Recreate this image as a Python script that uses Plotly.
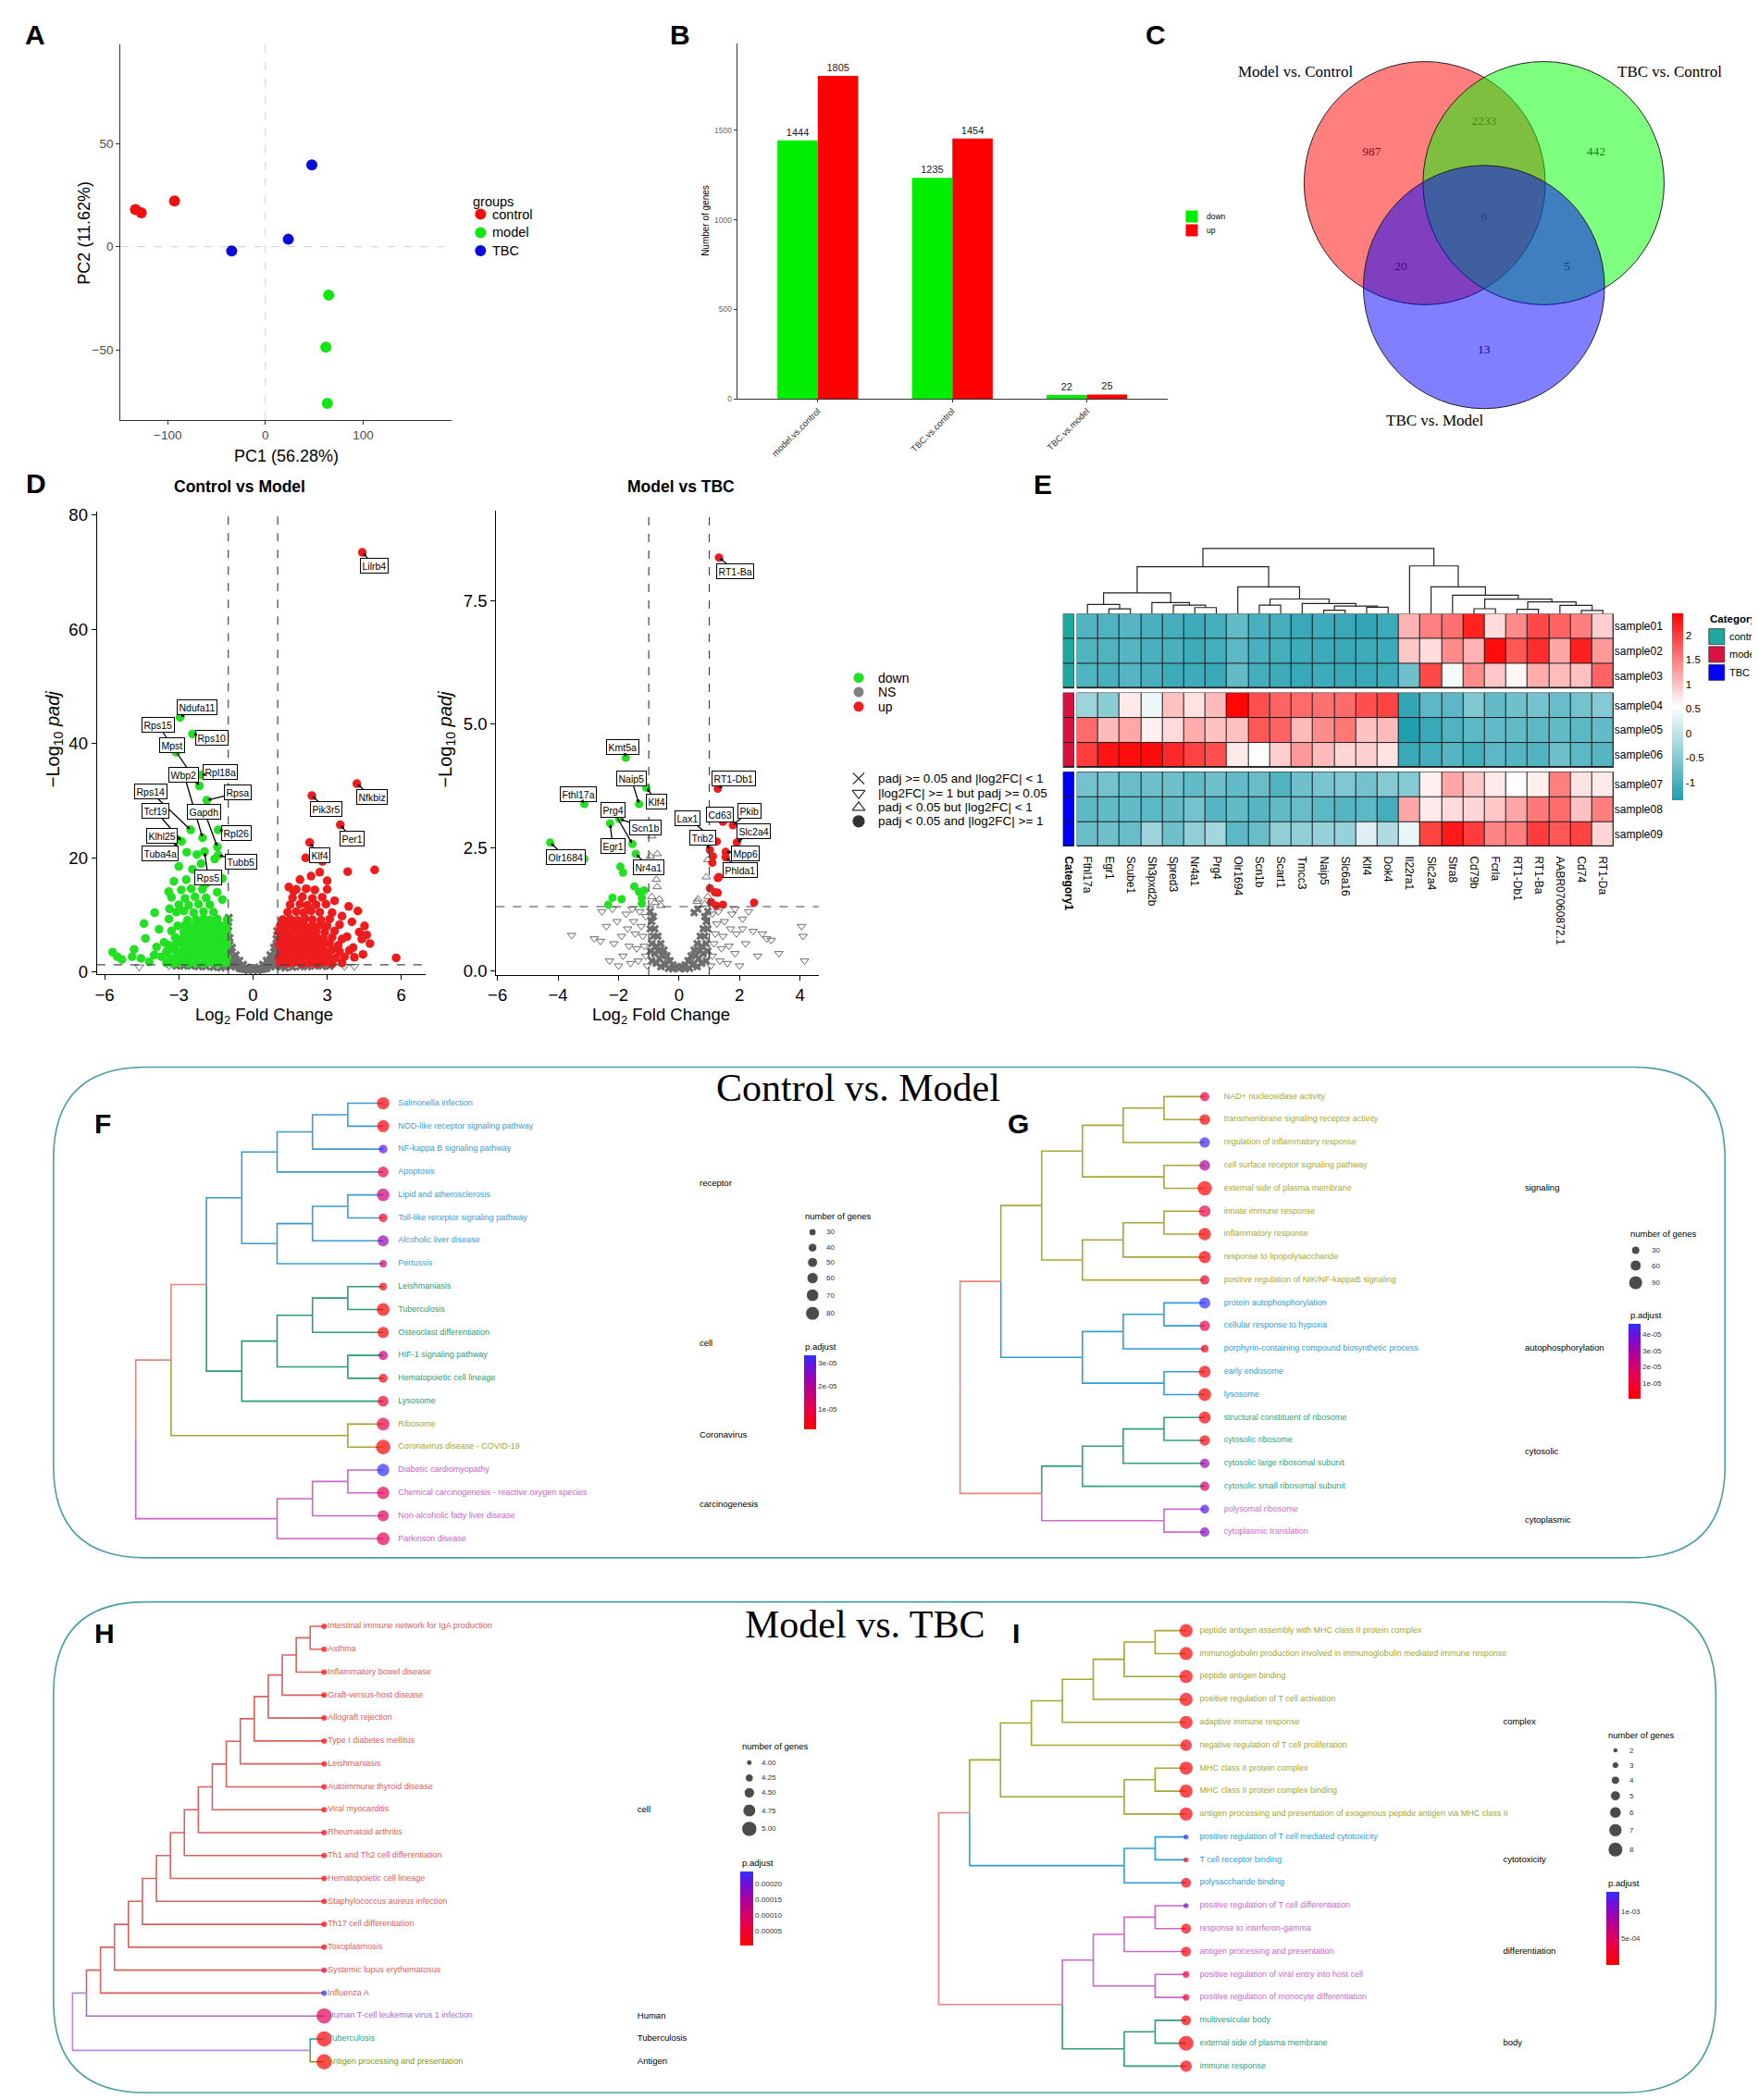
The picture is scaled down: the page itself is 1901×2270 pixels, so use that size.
import plotly.graph_objects as go

W, H = 1901, 2270
SANS = "Liberation Sans, Arial, Helvetica, sans-serif"
SERIF = "Liberation Serif, Times New Roman, serif"

# ===================== DATA =====================
# A: PCA
PCA_GROUPS = ["control", "model", "TBC"]
PCA_PC1 = [[-133.0, -127.0, -93.0], [64.7, 61.8, 63.3], [47.5, 23.4, -34.5]]
PCA_PC2 = [[18.0, 16.4, 22.2], [-23.5, -48.7, -76.0], [39.7, 3.6, -2.1]]

# B: number of DEGs
DEG_COMPARISONS = ["model.vs.control", "TBC.vs.control", "TBC.vs.model"]
DEG_DOWN = [1444, 1235, 22]
DEG_UP = [1805, 1454, 25]

# C: Venn
VENN_SETS = ["Model vs. Control", "TBC vs. Control", "TBC vs. Model"]
VENN_COUNTS = [987, 2233, 442, 9, 20, 5, 13]

# D-left: Control vs Model volcano (log2FC, -log10 padj)
CM_DOWN = [
    (-1.10, 1.6), (-1.40, 1.5), (-1.70, 1.7), (-2.00, 1.5), (-2.30, 1.6), (-2.60, 1.5), (-2.90, 1.7), (-3.20, 1.5), (-3.50, 1.6),
    (-1.05, 2.6), (-1.30, 2.7), (-1.55, 2.5), (-1.80, 2.6), (-2.05, 2.8), (-2.30, 2.5), (-2.55, 2.7), (-2.80, 2.6), (-3.05, 2.8), (-3.35, 2.5), (-3.70, 2.7),
    (-1.15, 3.7), (-1.40, 3.8), (-1.65, 3.6), (-1.90, 3.9), (-2.15, 3.7), (-2.40, 3.6), (-2.65, 3.8), (-2.90, 3.7), (-3.20, 3.9), (-3.50, 3.6),
    (-1.05, 4.8), (-1.30, 4.9), (-1.55, 4.7), (-1.80, 4.8), (-2.05, 5.0), (-2.30, 4.7), (-2.55, 4.9), (-2.80, 4.8), (-3.10, 5.0), (-3.40, 4.7),
    (-1.10, 5.9), (-1.35, 6.0), (-1.60, 5.8), (-1.85, 6.1), (-2.10, 5.9), (-2.35, 5.8), (-2.60, 6.0), (-2.85, 5.9), (-3.15, 6.1),
    (-1.05, 7.0), (-1.30, 7.1), (-1.55, 6.9), (-1.80, 7.2), (-2.05, 7.0), (-2.30, 6.9), (-2.55, 7.1), (-2.80, 7.0), (-3.30, 7.2),
    (-1.10, 8.1), (-1.35, 8.2), (-1.60, 8.0), (-1.90, 8.3), (-2.15, 8.1), (-2.45, 8.0), (-2.75, 8.2), (-3.05, 8.1),
    (-1.05, 9.2), (-1.45, 9.3), (-1.75, 9.1), (-2.00, 9.4), (-2.30, 9.2), (-2.65, 9.1), (-3.40, 9.3),
    (-1.60, 10.5), (-2.00, 10.6), (-2.40, 10.4), (-2.80, 10.7), (-3.10, 10.5),
    (-1.75, 11.8), (-2.20, 11.9), (-2.60, 11.7), (-3.00, 11.8),
    (-1.90, 13.0), (-2.35, 13.2), (-2.75, 12.9), (-3.30, 13.1),
    (-2.05, 14.5), (-2.50, 14.6), (-2.90, 14.4), (-2.20, 16.0), (-2.70, 16.2), (-3.20, 15.9),
    (-1.24, 12.7), (-1.24, 16.4), (-3.98, 10.4), (-4.41, 8.5), (-4.35, 5.9), (-3.38, 11.1), (-3.41, 14.1), (-4.81, 4.0),
    (-4.89, 2.7), (-4.53, 2.4), (-5.68, 3.5), (-5.49, 2.7), (-5.30, 2.2), (-4.00, 3.0), (-4.20, 1.8), (-3.80, 7.5),
    (-3.60, 5.2), (-3.90, 4.4), (-3.05, 23.2), (-2.68, 21.0), (-2.27, 20.6), (-3.00, 18.5), (-2.45, 18.0), (-1.70, 17.2),
    (-1.55, 19.8), (-2.10, 19.0), (-1.90, 15.5), (-1.45, 14.0),
    (-2.95, 44.6), (-2.45, 41.7), (-3.11, 38.5), (-2.17, 32.6), (-2.11, 34.5), (-1.87, 30.1), (-2.04, 23.5), (-2.52, 24.9),
    (-1.44, 21.9), (-2.89, 22.9), (-1.41, 24.9), (-1.96, 21.1), (-1.41, 20.5),
]
CM_UP = [
    (1.10, 1.6), (1.40, 1.5), (1.70, 1.7), (2.00, 1.5), (2.30, 1.6), (2.60, 1.5), (2.90, 1.7), (3.20, 1.5), (3.60, 1.6),
    (1.05, 2.6), (1.30, 2.7), (1.55, 2.5), (1.80, 2.6), (2.05, 2.8), (2.30, 2.5), (2.55, 2.7), (2.80, 2.6), (3.05, 2.8), (3.35, 2.5), (3.70, 2.7), (4.10, 2.6),
    (1.15, 3.7), (1.40, 3.8), (1.65, 3.6), (1.90, 3.9), (2.15, 3.7), (2.40, 3.6), (2.65, 3.8), (2.90, 3.7), (3.20, 3.9), (3.50, 3.6), (3.90, 3.8),
    (1.05, 4.8), (1.30, 4.9), (1.55, 4.7), (1.80, 4.8), (2.05, 5.0), (2.30, 4.7), (2.55, 4.9), (2.80, 4.8), (3.10, 5.0), (3.45, 4.7),
    (1.10, 5.9), (1.35, 6.0), (1.60, 5.8), (1.85, 6.1), (2.10, 5.9), (2.35, 5.8), (2.60, 6.0), (2.85, 5.9), (3.20, 6.1), (3.60, 5.8),
    (1.05, 7.0), (1.30, 7.1), (1.55, 6.9), (1.80, 7.2), (2.05, 7.0), (2.30, 6.9), (2.55, 7.1), (2.90, 7.0), (3.30, 7.2),
    (1.10, 8.1), (1.35, 8.2), (1.60, 8.0), (1.85, 8.3), (2.10, 8.1), (2.40, 8.0), (2.70, 8.2), (3.00, 8.1), (3.50, 8.3),
    (1.20, 9.2), (1.50, 9.3), (1.80, 9.1), (2.10, 9.4), (2.40, 9.2), (2.75, 9.1), (3.10, 9.3),
    (1.40, 10.5), (1.75, 10.6), (2.05, 10.4), (2.35, 10.7), (2.70, 10.5), (3.20, 10.4),
    (1.50, 11.8), (1.90, 11.9), (2.20, 11.7), (2.55, 11.8), (2.95, 11.9),
    (1.60, 13.0), (2.00, 13.2), (2.40, 12.9), (2.80, 13.1), (1.75, 14.5), (2.15, 14.6), (2.50, 14.4), (3.00, 14.5),
    (4.92, 17.9), (3.83, 17.6), (5.79, 2.5), (4.73, 5.0), (4.51, 8.1), (4.24, 10.7), (3.87, 11.5), (4.00, 8.8),
    (4.30, 7.0), (3.80, 6.2), (4.05, 4.3), (4.45, 3.1), (2.54, 19.8), (2.13, 20.0), (2.81, 19.4), (3.00, 16.0),
    (1.45, 14.9), (1.64, 14.2), (2.35, 16.8), (2.70, 17.5), (1.90, 16.2), (3.30, 12.5), (3.60, 9.8), (4.40, 5.8), (4.60, 6.5),
    (4.42, 73.5), (4.20, 33.0), (2.38, 30.9), (3.53, 25.8), (2.29, 22.7),
]
CM_NS = [
    (0.0, 0.4), (0.12, 0.5), (-0.12, 0.5), (0.25, 0.8), (-0.25, 0.8), (0.4, 1.3), (-0.4, 1.3), (0.55, 2.0), (-0.55, 2.0),
    (0.7, 3.0), (-0.7, 3.0), (0.85, 4.3), (-0.85, 4.3), (0.95, 5.8), (-0.95, 6.0), (-1.0, 8.0), (0.98, 7.2), (-0.98, 9.5),
    (0.35, 0.5), (-0.35, 0.5), (0.55, 0.7), (-0.55, 0.7), (0.7, 1.0), (-0.7, 1.0), (0.85, 1.3), (-0.85, 1.3), (0.9, 2.3),
    (-0.9, 2.3), (0.75, 1.8), (-0.75, 1.8), (0.95, 3.3), (-0.95, 3.3), (0.6, 1.2), (-0.6, 1.2), (0.9, 1.0), (-0.9, 1.0),
    (0.2, 0.3), (-0.2, 0.3), (0.45, 0.6), (-0.45, 0.6), (0.8, 2.4), (-0.8, 2.5), (0.95, 4.6), (-0.95, 4.8),
    (-1.3, 0.8), (-1.6, 0.9), (-1.9, 1.0), (-2.2, 1.0), (-2.5, 1.1), (-2.8, 1.1), (-3.1, 1.1), (1.3, 0.8), (1.6, 0.9),
    (1.9, 1.0), (2.2, 1.0), (2.5, 1.1), (2.8, 1.1), (3.1, 1.1), (-1.15, 1.0), (1.15, 1.0),
]
CM_NS_TRI = [(-4.6, 0.9), (-3.4, 1.1), (2.9, 1.0), (3.2, 1.1), (3.7, 1.0), (4.1, 1.0)]
CM_LABELS = [  # gene, point x, point y, label x, label y
    ("Lilrb4", 4.42, 73.5, 4.92, 71.1), ("Ndufa11", -2.95, 44.6, -2.27, 46.3), ("Rps15", -2.17, 32.6, -3.85, 43.3),
    ("Rps10", -2.45, 41.7, -1.65, 41.0), ("Mpst", -3.11, 38.5, -3.28, 39.7), ("Rpl18a", -2.11, 34.5, -1.34, 35.0),
    ("Wbp2", -2.04, 23.5, -2.79, 34.6), ("Rpsa", -1.87, 30.1, -0.61, 31.4), ("Rps14", -2.52, 24.9, -4.15, 31.6),
    ("Gapdh", -1.44, 21.9, -1.97, 28.1), ("Tcf19", -2.89, 22.9, -3.93, 28.2), ("Rpl26", -1.41, 24.9, -0.66, 24.3),
    ("Klhl25", -3.00, 22.0, -3.67, 23.8), ("Tuba4a", -3.10, 21.0, -3.75, 20.8), ("Tubb5", -1.41, 20.5, -0.47, 19.4),
    ("Rps5", -1.96, 21.1, -1.81, 16.5), ("Nfkbiz", 4.20, 33.0, 4.80, 30.7), ("Pik3r5", 2.38, 30.9, 2.96, 28.6),
    ("Per1", 3.53, 25.8, 3.99, 23.4), ("Klf4", 2.29, 22.7, 2.69, 20.4),
]

# D-right: Model vs TBC volcano
MT_DOWN = [(-1.76, 4.32), (-1.32, 3.38), (-1.08, 3.71), (-3.13, 3.38), (-1.54, 2.57), (-1.98, 3.08), (-2.28, 2.99),
           (-4.26, 2.60), (-1.43, 2.37), (-3.13, 2.27), (-1.94, 2.11), (-1.85, 1.99), (-1.48, 1.71), (-1.32, 1.60),
           (-1.15, 1.63), (-1.23, 1.48), (-1.23, 1.36), (-2.20, 1.48), (-2.34, 1.34), (-1.90, 1.45)]
MT_UP = [(1.32, 8.38), (1.28, 3.69), (1.45, 3.02), (1.78, 2.95), (1.25, 2.62), (1.91, 2.60), (1.02, 2.45), (1.54, 2.41),
         (1.54, 2.30), (1.12, 2.32), (1.10, 2.19), (1.28, 1.88), (1.32, 1.90), (1.02, 1.67), (1.19, 1.59), (1.28, 1.58),
         (1.06, 1.39), (1.23, 1.32), (1.45, 1.34), (2.48, 1.38)]
MT_NS = [(0.0, 0.05), (0.1, 0.08), (-0.1, 0.08), (0.2, 0.12), (-0.2, 0.12), (0.3, 0.2), (-0.3, 0.2), (0.4, 0.3), (-0.4, 0.3),
         (0.5, 0.42), (-0.5, 0.42), (0.6, 0.55), (-0.6, 0.55), (0.7, 0.7), (-0.7, 0.7), (0.8, 0.85), (-0.8, 0.85),
         (0.9, 1.0), (-0.9, 1.0), (0.95, 1.2), (-0.95, 1.2), (0.35, 0.05), (-0.35, 0.05), (0.5, 0.15), (-0.5, 0.15),
         (0.65, 0.25), (-0.65, 0.25), (0.8, 0.35), (-0.8, 0.35), (0.9, 0.55), (-0.9, 0.55), (0.75, 0.5), (-0.75, 0.5),
         (0.85, 0.7), (-0.85, 0.7), (0.95, 0.85), (-0.95, 0.85), (0.6, 0.08), (-0.6, 0.08), (0.75, 0.15), (-0.75, 0.15),
         (0.9, 0.2), (-0.9, 0.2), (0.95, 0.4), (-0.95, 0.4), (0.2, 0.04), (-0.2, 0.04), (0.45, 0.12), (-0.45, 0.12),
         (0.68, 0.4), (-0.68, 0.4), (0.55, 0.3), (-0.55, 0.3), (0.85, 1.1), (-0.85, 1.1), (0.5, 1.18), (0.62, 1.25)]
MT_TRI_DOWN = [(-1.05, 0.1), (-1.1, 0.3), (-1.15, 0.5), (-1.2, 0.7), (-1.25, 0.9), (-1.1, 1.1), (-1.3, 1.2), (-1.35, 0.2),
               (-1.4, 0.45), (-1.45, 0.75), (-1.5, 1.0), (-1.6, 0.15), (-1.65, 0.5), (-1.7, 0.85), (-1.75, 1.15),
               (-1.85, 0.3), (-1.9, 0.7), (-2.0, 0.1), (-2.05, 1.0), (-2.15, 0.55), (-2.3, 0.2), (-2.4, 0.9), (-2.55, 1.2),
               (-2.6, 0.6), (-2.8, 0.65), (-3.55, 0.72), (-2.2, 1.25), (-1.55, 1.25),
               (1.05, 0.1), (1.1, 0.3), (1.15, 0.55), (1.2, 0.75), (1.25, 0.95), (1.1, 1.15), (1.3, 1.2), (1.35, 0.2),
               (1.4, 0.45), (1.45, 0.7), (1.5, 1.0), (1.6, 0.15), (1.65, 0.5), (1.7, 0.85), (1.75, 1.15), (1.85, 0.35),
               (1.9, 0.75), (2.0, 0.1), (2.1, 1.05), (2.2, 0.55), (2.45, 0.8), (2.6, 0.3), (2.75, 0.75), (2.9, 0.65),
               (3.05, 0.62), (3.3, 0.35), (4.05, 0.9), (4.1, 0.7), (4.15, 0.2), (2.3, 1.2), (2.1, 0.85), (1.85, 1.25)]
MT_TRI_UP = [(-0.9, 2.73), (-0.72, 2.37), (-0.95, 2.32), (-0.75, 1.85), (-0.72, 1.7), (-0.9, 1.5), (-0.65, 1.45),
             (-0.8, 1.38), (-0.6, 1.32), (0.62, 1.45), (0.6, 1.4), (0.9, 1.9), (0.95, 2.25), (0.85, 1.35), (0.95, 1.5)]
MT_LABELS = [
    ("RT1-Ba", 1.32, 8.38, 1.87, 8.11), ("Kmt5a", -1.76, 4.32, -1.85, 4.53), ("Naip5", -1.32, 3.38, -1.58, 3.90),
    ("Klf4", -1.08, 3.71, -0.73, 3.43), ("Fthl17a", -3.13, 3.38, -3.33, 3.58), ("Prg4", -1.54, 2.57, -2.19, 3.26),
    ("Scn1b", -1.98, 3.08, -1.12, 2.90), ("Egr1", -2.28, 2.99, -2.19, 2.52), ("Olr1684", -4.26, 2.60, -3.74, 2.30),
    ("Nr4a1", -1.43, 2.37, -0.99, 2.10), ("RT1-Db1", 1.28, 3.69, 1.81, 3.90), ("Cd63", 1.45, 3.02, 1.35, 3.16),
    ("Pkib", 1.78, 2.95, 2.34, 3.24), ("Lax1", 1.25, 2.62, 0.28, 3.10), ("Slc2a4", 1.91, 2.60, 2.47, 2.82),
    ("Trib2", 1.02, 2.45, 0.78, 2.69), ("Mpp6", 1.54, 2.41, 2.18, 2.38), ("Phlda1", 1.54, 2.30, 2.02, 2.04),
]

# E: heatmap
HM_GENES = ["Fthl17a", "Egr1", "Scube1", "Sh3pxd2b", "Spred3", "Nr4a1", "Prg4", "Olr1694", "Scn1b", "Scart1", "Tmcc3",
            "Naip5", "Slc6a16", "Klf4", "Dok4", "Il22ra1", "Slc2a4", "Stra8", "Cd79b", "Fcrla", "RT1-Db1", "RT1-Ba",
            "AABR07060872.1", "Cd74", "RT1-Da"]
HM_SAMPLES = ["sample01", "sample02", "sample03", "sample04", "sample05", "sample06", "sample07", "sample08", "sample09"]
HM_CATEGORY = ["control", "control", "control", "model", "model", "model", "TBC", "TBC", "TBC"]
HM_VALUES = [
    [-0.95, -0.95, -0.90, -1.00, -1.05, -1.10, -1.05, -0.80, -1.00, -1.05, -1.15, -1.10, -1.15, -1.20, -1.10, 1.10, 1.50, 1.60, 2.20, 0.80, 1.40, 1.90, 1.70, 1.50, 0.90],
    [-0.95, -0.95, -0.90, -1.00, -1.00, -1.10, -1.05, -0.85, -1.00, -1.05, -1.10, -1.10, -1.15, -1.10, -1.10, 0.95, 0.80, 1.40, 1.10, 2.35, 1.80, 2.10, 1.20, 2.20, 1.30],
    [-0.95, -1.00, -0.90, -1.00, -1.10, -1.10, -1.15, -0.80, -1.05, -1.10, -1.15, -1.10, -1.15, -1.15, -1.10, -0.70, 1.90, 0.45, 1.40, 0.95, 0.60, 1.15, 1.05, 1.00, 1.70],
    [-0.30, -0.45, 0.70, 0.40, 1.00, 0.75, 1.05, 2.40, 1.85, 1.70, 1.65, 1.60, 1.65, 1.85, 1.95, -1.20, -0.85, -0.85, -0.55, -0.80, -0.70, -0.65, -0.75, -0.65, -0.50],
    [1.65, 1.05, 1.20, 0.65, 0.80, 1.15, 1.00, 1.00, 1.80, 1.70, 1.05, 1.40, 1.55, 1.00, 1.05, -1.35, -1.15, -0.95, -0.85, -0.80, -0.80, -0.85, -0.80, -0.85, -0.80],
    [2.00, 2.30, 2.35, 2.35, 2.15, 1.95, 1.85, 0.70, 0.50, 0.90, 1.30, 1.05, 0.85, 0.90, 0.75, -1.15, -1.05, -0.90, -1.05, -0.85, -0.90, -0.95, -0.70, -0.85, -0.90],
    [-0.65, -0.65, -0.75, -0.70, -0.70, -0.80, -0.70, -0.80, -0.75, -0.95, -0.70, -0.60, -0.55, -0.65, -0.50, -0.50, 0.65, 1.20, 0.95, 0.70, 0.55, 0.65, 1.50, 0.75, 0.70],
    [-0.85, -0.80, -0.80, -0.85, -0.80, -0.65, -0.90, -0.80, -0.90, -0.80, -0.75, -0.85, -0.90, -0.85, -1.05, 1.20, 0.70, 0.80, 0.85, 0.95, 1.20, 1.55, 1.65, 1.00, 1.50],
    [-0.75, -0.70, -0.75, -0.30, -0.70, -0.40, -0.25, -0.85, -0.75, -0.40, -0.40, -0.35, -0.35, 0.25, -0.15, 0.35, 1.95, 2.25, 2.00, 1.45, 1.50, 2.00, 1.80, 1.95, 0.85],
]
HM_RANGE = [-1.375, 2.44]
# column dendrogram: (child a, child b, merge height); leaves 0..24, internal nodes 25+
HM_COL_MERGES = [(1, 2, 5.3), (0, 25, 10.0), (5, 6, 6.7), (4, 27, 9.3), (3, 28, 12.0), (26, 29, 22.7), (8, 9, 9.3),
                 (11, 12, 3.7), (13, 14, 7.0), (32, 33, 8.3), (10, 34, 11.0), (31, 35, 16.0), (7, 36, 29.3),
                 (30, 37, 51.0), (18, 19, 5.4), (20, 21, 4.7), (23, 24, 3.6), (22, 41, 9.1), (40, 42, 12.8),
                 (39, 43, 15.8), (17, 44, 20.2), (16, 45, 29.3), (15, 46, 52.0), (38, 47, 71.0)]

# F: KEGG tree, Control vs Model
F_TERMS = ["Salmonella infection", "NOD-like receptor signaling pathway", "NF-kappa B signaling pathway", "Apoptosis",
           "Lipid and atherosclerosis", "Toll-like receptor signaling pathway", "Alcoholic liver disease", "Pertussis",
           "Leishmaniasis", "Tuberculosis", "Osteoclast differentiation", "HIF-1 signaling pathway",
           "Hematopoietic cell lineage", "Lysosome", "Ribosome", "Coronavirus disease - COVID-19",
           "Diabetic cardiomyopathy", "Chemical carcinogenesis - reactive oxygen species",
           "Non-alcoholic fatty liver disease", "Parkinson disease"]
F_COUNTS = [68, 66, 40, 56, 70, 40, 58, 30, 35, 72, 60, 46, 42, 56, 70, 85, 68, 68, 60, 72]
F_PADJ = [1.0e-6, 1.5e-6, 3.0e-5, 9e-6, 1.6e-5, 6e-6, 2.3e-5, 1.5e-5, 3e-6, 1e-6, 2e-6, 1.6e-5, 3e-6, 7e-6, 9e-6,
          1e-6, 3.3e-5, 1.1e-5, 1.2e-5, 1.1e-5]
F_CLUSTER = [0, 0, 0, 0, 0, 0, 0, 0, 1, 1, 1, 1, 1, 1, 2, 2, 3, 3, 3, 3]
F_CLUSTER_NAMES = ["receptor", "cell", "Coronavirus", "carcinogenesis"]
F_MERGES = [(0, 1, 6), (20, 2, 5), (21, 3, 4), (4, 5, 6), (23, 6, 5), (24, 7, 4), (22, 25, 3), (8, 9, 6), (27, 10, 5),
            (11, 12, 6), (28, 29, 4), (30, 13, 3), (26, 31, 2), (14, 15, 6), (32, 33, 1), (16, 17, 6), (35, 18, 5),
            (36, 19, 4), (34, 37, 0)]

# G: GO tree, Control vs Model
G_TERMS = ["NAD+ nucleosidase activity", "transmembrane signaling receptor activity",
           "regulation of inflammatory response", "cell surface receptor signaling pathway",
           "external side of plasma membrane", "innate immune response", "inflammatory response",
           "response to lipopolysaccharide", "positive regulation of NIK/NF-kappaB signaling",
           "protein autophosphorylation", "cellular response to hypoxia",
           "porphyrin-containing compound biosynthetic process", "early endosome", "lysosome",
           "structural constituent of ribosome", "cytosolic ribosome", "cytosolic large ribosomal subunit",
           "cytosolic small ribosomal subunit", "polysomal ribosome", "cytoplasmic translation"]
G_COUNTS = [40, 55, 52, 55, 95, 65, 75, 72, 40, 60, 52, 22, 68, 78, 68, 52, 42, 42, 36, 42]
G_PADJ = [1.3e-5, 2e-6, 4.5e-5, 2.8e-5, 5e-7, 1.2e-5, 1e-6, 1e-6, 1e-5, 4.6e-5, 1.2e-5, 4e-6, 1e-6, 5e-7, 1e-6,
          2e-6, 3e-5, 1.8e-5, 4.2e-5, 3.5e-5]
G_CLUSTER = [0, 0, 0, 0, 0, 0, 0, 0, 0, 1, 1, 1, 1, 1, 2, 2, 2, 2, 3, 3]
G_CLUSTER_NAMES = ["signaling", "autophosphorylation", "cytosolic", "cytoplasmic"]
G_MERGES = [(0, 1, 5), (20, 2, 4), (3, 4, 5), (21, 22, 3), (5, 6, 5), (24, 7, 4), (25, 8, 3), (23, 26, 2), (9, 10, 5),
            (28, 11, 4), (12, 13, 5), (29, 30, 3), (27, 31, 1), (14, 15, 5), (33, 16, 4), (34, 17, 3), (18, 19, 5),
            (35, 36, 2), (32, 37, 0)]

# H: KEGG tree, Model vs TBC
H_TERMS = ["Intestinal immune network for IgA production", "Asthma", "Inflammatory bowel disease",
           "Graft-versus-host disease", "Allograft rejection", "Type I diabetes mellitus", "Leishmaniasis",
           "Autoimmune thyroid disease", "Viral myocarditis", "Rheumatoid arthritis",
           "Th1 and Th2 cell differentiation", "Hematopoietic cell lineage", "Staphylococcus aureus infection",
           "Th17 cell differentiation", "Toxoplasmosis", "Systemic lupus erythematosus", "Influenza A",
           "Human T-cell leukemia virus 1 infection", "Tuberculosis", "Antigen processing and presentation"]
H_COUNTS = [4, 4, 4, 4, 4, 4, 4, 4, 4, 4, 4, 4, 4, 4, 4, 4, 4, 5, 5, 5]
H_PADJ = [1.5e-5, 1.5e-5, 1.5e-5, 1.5e-5, 1.5e-5, 1.5e-5, 1.5e-5, 1.5e-5, 1.5e-5, 2e-5, 2e-5, 2e-5, 2e-5, 2.5e-5,
          3e-5, 7e-5, 2.4e-4, 8e-5, 1e-5, 4e-6]
H_CLUSTER = [0] * 17 + [1, 2, 3]
H_CLUSTER_NAMES = ["cell", "Human", "Tuberculosis", "Antigen"]
H_MERGES = [(0, 1, 17), (20, 2, 16), (21, 3, 15), (22, 4, 14), (23, 5, 13), (24, 6, 12), (25, 7, 11), (26, 8, 10),
            (27, 9, 9), (28, 10, 8), (29, 11, 7), (30, 12, 6), (31, 13, 5), (32, 14, 4), (33, 15, 3), (34, 16, 2),
            (35, 17, 1), (18, 19, 17), (36, 37, 0)]

# I: GO tree, Model vs TBC
I_TERMS = ["peptide antigen assembly with MHC class II protein complex",
           "immunoglobulin production involved in immunoglobulin mediated immune response",
           "peptide antigen binding", "positive regulation of T cell activation", "adaptive immune response",
           "negative regulation of T cell proliferation", "MHC class II protein complex",
           "MHC class II protein complex binding",
           "antigen processing and presentation of exogenous peptide antigen via MHC class II",
           "positive regulation of T cell mediated cytotoxicity", "T cell receptor binding", "polysaccharide binding",
           "positive regulation of T cell differentiation", "response to interferon-gamma",
           "antigen processing and presentation", "positive regulation of viral entry into host cell",
           "positive regulation of monocyte differentiation", "multivesicular body",
           "external side of plasma membrane", "immune response"]
I_COUNTS = [7, 7, 7, 7, 7, 6, 7, 7, 7, 2, 2, 5, 2, 5, 5, 3, 3, 5, 8, 6]
I_PADJ = [1e-5, 2e-5, 3e-5, 5e-5, 5e-5, 1e-4, 2e-5, 2e-5, 3e-5, 1.35e-3, 1.5e-4, 8e-5, 1.1e-3, 5e-5, 6e-5, 3e-4,
          2.5e-4, 5e-5, 5e-6, 4e-5]
I_CLUSTER = [0, 0, 0, 0, 0, 0, 0, 0, 0, 1, 1, 1, 2, 2, 2, 2, 2, 3, 3, 3]
I_CLUSTER_NAMES = ["complex", "cytotoxicity", "differentiation", "body"]
I_MERGES = [(0, 1, 7), (20, 2, 6), (21, 3, 5), (22, 4, 4), (23, 5, 3), (6, 7, 7), (25, 8, 6), (24, 26, 2), (9, 10, 7),
            (28, 11, 6), (27, 29, 1), (12, 13, 7), (31, 14, 6), (15, 16, 7), (32, 33, 5), (17, 18, 7), (35, 19, 6),
            (34, 36, 4), (30, 37, 0)]

# ===================== STYLE / LAYOUT =====================
PCA_COLORS = ["#EE1111", "#12E612", "#0B0BDD"]
DOWN_COLOR, UP_COLOR, NS_COLOR = "#22E022", "#EE1C1C", "#6E6E6E"
CAT_COLORS = {"control": "#1EA8A0", "model": "#D8123F", "TBC": "#0000FF"}
PADJ_SCALE = [[0, "#FF0000"], [0.3, "#E8004E"], [0.6, "#B0009C"], [0.85, "#6A10E0"], [1, "#3030FF"]]
HEAT_SCALE = [[0, "#1E9DAE"], [0.5, "#FFFFFF"], [1, "#FF0000"]]
VENN_CENTERS = [(-0.492, 0.288), (0.494, 0.288), (0.0, -0.575)]
VENN_FILL = ["rgba(255,0,0,0.5)", "rgba(0,255,0,0.5)", "rgba(0,0,255,0.5)"]
VENN_COUNT_POS = [(-0.931, 0.542), (0.0, 0.798), (0.930, 0.542), (0.0, -0.003), (-0.689, -0.405), (0.687, -0.405),
                  (0.0, -1.098)]
VENN_SET_POS = [(-1.564, 1.213), (1.543, 1.213), (-0.403, -1.68)]


def XP(x):
    return x / W


def YP(y):
    return 1 - y / H


def XD(a, b):
    return [a / W, b / W]


def YD(top, bot):
    return [1 - bot / H, 1 - top / H]


fig = go.Figure()
lay = dict(width=W, height=H, margin=dict(l=0, r=0, t=0, b=0, pad=0), paper_bgcolor="white",
           plot_bgcolor="rgba(0,0,0,0)", showlegend=False, font=dict(family=SANS, color="black"),
           barmode="group", bargap=0.4, bargroupgap=0)
annotations = []
shapes = []


def text(x, y, s, size, color="black", family=SANS, xanchor="center", yanchor="middle", angle=0):
    annotations.append(dict(x=XP(x), y=YP(y), xref="paper", yref="paper", text=s, showarrow=False,
                            font=dict(size=size, color=color, family=family), xanchor=xanchor, yanchor=yanchor,
                            textangle=angle))


def glyph(xs, ys, **marker):
    fig.add_trace(go.Scatter(x=xs, y=ys, mode="markers", marker=marker, xaxis="x20", yaxis="y20",
                             hoverinfo="skip", cliponaxis=False))


def axstyle(**kw):
    base = dict(showgrid=False, zeroline=False, showline=True, linecolor="black", linewidth=1.4, ticks="outside",
                ticklen=5, tickwidth=1.2, tickcolor="black")
    base.update(kw)
    return base


# overlay axis in pixel units (for legend keys)
lay["xaxis20"] = dict(domain=[0, 1], range=[0, W], visible=False, anchor="y20", fixedrange=True)
lay["yaxis20"] = dict(domain=[0, 1], range=[H, 0], visible=False, anchor="x20", fixedrange=True)

# panel letters
for letter, lx, ly in [("A", 21, 23), ("B", 721.6, 23), ("C", 1239, 23), ("D", 21.7, 511), ("E", 1115.7, 512),
                       ("F", 94, 1207), ("G", 1089, 1207), ("H", 97, 1762), ("I", 1087, 1762)]:
    text(lx, ly, f"<b>{letter}</b>", 30)

# ---------------- A: PCA ----------------
for g in range(3):
    fig.add_trace(go.Scatter(x=PCA_PC1[g], y=PCA_PC2[g], mode="markers", xaxis="x", yaxis="y",
                             marker=dict(size=12, color=PCA_COLORS[g]), hoverinfo="skip"))
lay["xaxis"] = axstyle(domain=XD(114, 473.8), range=[-148.1, 190.7], tickvals=[-100, 0, 100], anchor="y",
                       linecolor="#333", tickcolor="#333", ticklen=4, tickfont=dict(size=13.5, color="#4D4D4D"))
lay["yaxis"] = axstyle(domain=YD(33.3, 441.7), range=[-84, 98.1], tickvals=[-50, 0, 50], anchor="x",
                       linecolor="#333", tickcolor="#333", ticklen=4, tickfont=dict(size=13.5, color="#4D4D4D"))
shapes.append(dict(type="line", xref="x", yref="y domain", x0=0, x1=0, y0=0, y1=1,
                   line=dict(color="#D0D0D0", width=1, dash="dash"), layer="below"))
shapes.append(dict(type="line", xref="x domain", yref="y", x0=0, x1=1, y0=0, y1=0,
                   line=dict(color="#D0D0D0", width=1, dash="dash"), layer="below"))
text(293.7, 481, "PC1 (56.28%)", 18)
text(74.6, 238, "PC2 (11.62%)", 18, angle=-90)
text(494.8, 204, "groups", 14.5, xanchor="left")
glyph([505] * 3, [218, 238, 257.7], size=12, color=PCA_COLORS)
for name, yy in zip(PCA_GROUPS, [218, 238, 257.7]):
    text(515.9, yy, name, 14.5, xanchor="left")

# ---------------- B: DEG bars ----------------
for vals, col in [(DEG_DOWN, "#00EE00"), (DEG_UP, "#FF0000")]:
    fig.add_trace(go.Bar(x=list(range(len(DEG_COMPARISONS))), y=vals, marker=dict(color=col, line=dict(width=0)),
                         text=[str(v) for v in vals], textposition="outside", cliponaxis=False,
                         textfont=dict(size=11, color="#222"), xaxis="x2", yaxis="y2", hoverinfo="skip"))
lay["xaxis2"] = axstyle(domain=XD(783.7, 1251.5), range=[-0.6, 2.6], tickvals=[0, 1, 2], ticktext=DEG_COMPARISONS,
                        tickangle=-45, tickfont=dict(size=9.5, color="#333"), ticklen=3, linewidth=1,
                        linecolor="#333", tickcolor="#333", anchor="y2")
lay["yaxis2"] = axstyle(domain=YD(32.3, 419), range=[0, 1985], tickvals=[0, 500, 1000, 1500], ticklen=3,
                        tickfont=dict(size=8.5, color="#666"), linewidth=1, linecolor="#333", tickcolor="#333",
                        anchor="x2")
text(749.3, 225, "Number of genes", 10, angle=-90)
glyph([1277.7, 1277.7], [220.5, 235.5], size=13, symbol="square", color=["#00EE00", "#FF0000"])
text(1291.8, 220.5, "down", 8.5, xanchor="left")
text(1291.8, 235.5, "up", 8.5, xanchor="left")

# ---------------- C: Venn ----------------
VC = (1595.2, 221.9)
VS = 131.0
lay["xaxis3"] = dict(domain=XD(1300, 1901), range=[(1300 - VC[0]) / VS, (1901 - VC[0]) / VS], visible=False,
                     anchor="y3")
lay["yaxis3"] = dict(domain=YD(30, 465), range=[(VC[1] - 465) / VS, (VC[1] - 30) / VS], visible=False, anchor="x3")
for (cx, cy), fc in zip(VENN_CENTERS, VENN_FILL):
    shapes.append(dict(type="circle", xref="x3", yref="y3", x0=cx - 1, x1=cx + 1, y0=cy - 1.01, y1=cy + 1.01,
                       fillcolor=fc, line=dict(color="#222", width=1)))
fig.add_trace(go.Scatter(x=[p[0] for p in VENN_COUNT_POS], y=[p[1] for p in VENN_COUNT_POS], mode="text",
                         text=[str(c) for c in VENN_COUNTS], textfont=dict(size=13.5, family=SERIF, color="#111"),
                         xaxis="x3", yaxis="y3", hoverinfo="skip", cliponaxis=False))
for name, (sx, sy) in zip(VENN_SETS, VENN_SET_POS):
    annotations.append(dict(x=sx, y=sy, xref="x3", yref="y3", text=name, showarrow=False,
                            font=dict(size=17, family=SERIF, color="black")))


# ---------------- D: volcanoes ----------------
def volcano(ax, down, up, ns, tri_down, tri_up, labels, msize):
    xa, ya = f"x{ax}", f"y{ax}"

    def sc(pts, **m):
        fig.add_trace(go.Scatter(x=[p[0] for p in pts], y=[p[1] for p in pts], mode="markers", marker=m,
                                 xaxis=xa, yaxis=ya, hoverinfo="skip"))

    sc(ns, symbol="x", size=msize - 1, color=NS_COLOR, line=dict(width=0))
    if tri_down:
        sc(tri_down, symbol="triangle-down-open", size=msize - 1, color="#6A6A6A", line=dict(width=1))
    if tri_up:
        sc(tri_up, symbol="triangle-up-open", size=msize - 1, color="#6A6A6A", line=dict(width=1))
    sc(down, symbol="circle", size=msize, color=DOWN_COLOR, line=dict(width=0))
    sc(up, symbol="circle", size=msize, color=UP_COLOR, line=dict(width=0))
    for g, x, y, lx, ly in labels:
        annotations.append(dict(x=x, y=y, xref=xa, yref=ya, ax=lx, ay=ly, axref=xa, ayref=ya, text=g,
                                showarrow=True, arrowhead=2, arrowsize=0.6, arrowwidth=1.3, arrowcolor="black",
                                font=dict(size=10.5, family=SANS, color="black"), bgcolor="white",
                                bordercolor="black", borderwidth=1, borderpad=1.5, standoff=1))


volcano(4, CM_DOWN, CM_UP, CM_NS, CM_NS_TRI, [], CM_LABELS, 9.5)
volcano(5, MT_DOWN, MT_UP, MT_NS, MT_TRI_DOWN, MT_TRI_UP, MT_LABELS, 9)
lay["xaxis4"] = axstyle(domain=XD(88.3, 445), range=[-6.31, 6.97], tickvals=[-6, -3, 0, 3, 6],
                        tickfont=dict(size=18.5), anchor="y4")
lay["yaxis4"] = axstyle(domain=YD(541.8, 1045.2), range=[-0.4, 80.6], tickvals=[0, 20, 40, 60, 80],
                        tickfont=dict(size=18.5), anchor="x4")
lay["xaxis5"] = axstyle(domain=XD(522.1, 872.5), range=[-6.04, 4.62], tickvals=[-6, -4, -2, 0, 2, 4],
                        tickfont=dict(size=18.5), anchor="y5")
lay["yaxis5"] = axstyle(domain=YD(540.6, 1046), range=[-0.09, 9.33], tickvals=[0, 2.5, 5, 7.5],
                        ticktext=["0.0", "2.5", "5.0", "7.5"], tickfont=dict(size=18.5), anchor="x5")
for ax in (4, 5):
    for xv in (-1, 1):
        shapes.append(dict(type="line", xref=f"x{ax}", yref=f"y{ax} domain", x0=xv, x1=xv, y0=0, y1=1,
                           line=dict(color="#444", width=1.2, dash="dash")))
    shapes.append(dict(type="line", xref=f"x{ax} domain", yref=f"y{ax}", x0=0, x1=1, y0=1.3, y1=1.3,
                       line=dict(color="#444", width=1.2, dash="dash")))
text(243.3, 514, "<b>Control vs Model</b>", 17.5)
text(722.8, 514, "<b>Model vs TBC</b>", 17.5)
for tx in (41.7, 468.3):
    text(tx, 789, "\u2212Log<sub>10</sub> <i>padj</i>", 20, angle=-90)
text(270, 1090, "Log<sub>2</sub> Fold Change", 18.5)
text(701.2, 1090, "Log<sub>2</sub> Fold Change", 18.5)
# volcano legends
glyph([915.8] * 3, [722.4, 737.9, 753.8], size=11, color=[DOWN_COLOR, "#808080", UP_COLOR])
for name, yy in zip(["down", "NS", "up"], [722.4, 737.9, 753.8]):
    text(934.5, yy, name, 14, xanchor="left")
shape_keys = [("x-thin-open", "padj >= 0.05 and |log2FC| < 1"),
              ("triangle-down-open", "|log2FC| >= 1 but padj >= 0.05"),
              ("triangle-up-open", "padj < 0.05 but |log2FC| < 1"),
              ("circle", "padj < 0.05 and |log2FC| >= 1")]
for (sym, lab), yy in zip(shape_keys, [832, 847.9, 863.5, 878.6]):
    glyph([915.8], [yy], size=12, symbol=sym, color="#333", line=dict(width=1.2, color="#333"))
    text(934.5, yy, lab, 13.5, xanchor="left")

# ---------------- E: heatmap ----------------
cat_index = {"control": 0, "model": 1, "TBC": 2}
cat_scale = [[0, CAT_COLORS["control"]], [0.5, CAT_COLORS["model"]], [1, CAT_COLORS["TBC"]]]
row_y = []
for g in range(3):
    rows = [3 * g, 3 * g + 1, 3 * g + 2]
    yv = [r + 0.2 * g for r in rows]
    row_y += yv
    fig.add_trace(go.Heatmap(z=[HM_VALUES[r] for r in rows], x=list(range(len(HM_GENES))), y=yv,
                             coloraxis="coloraxis5", xgap=1, ygap=1, xaxis="x6", yaxis="y6", hoverinfo="skip"))
    fig.add_trace(go.Heatmap(z=[[cat_index[HM_CATEGORY[r]]] for r in rows], x=[0], y=yv, colorscale=cat_scale,
                             zmin=0, zmax=2, showscale=False, ygap=1, xaxis="x7", yaxis="y6", hoverinfo="skip"))
    shapes.append(dict(type="rect", xref="x6", yref="y6", x0=-0.5, x1=len(HM_GENES) - 0.5, y0=yv[0] - 0.5,
                       y1=yv[-1] + 0.5, fillcolor="#1a1a1a", line=dict(color="#1a1a1a", width=1), layer="below"))
    shapes.append(dict(type="rect", xref="x7", yref="y6", x0=-0.5, x1=0.5, y0=yv[0] - 0.5, y1=yv[-1] + 0.5,
                       fillcolor="#1a1a1a", line=dict(color="#1a1a1a", width=1), layer="below"))
tick_hidden = dict(ticks="outside", ticklen=7, tickcolor="rgba(0,0,0,0)", showgrid=False, zeroline=False,
                   showline=False)
lay["xaxis6"] = dict(domain=XD(1152.7, 1736), range=[-0.5, len(HM_GENES) - 0.5], tickvals=list(range(len(HM_GENES))),
                     ticktext=HM_GENES, tickangle=90, tickfont=dict(size=12), anchor="y6", **tick_hidden)
lay["yaxis6"] = dict(domain=YD(652.7, 906), range=[8.9, -0.5], tickvals=row_y, ticktext=HM_SAMPLES, side="right",
                     tickfont=dict(size=12), anchor="x6", ticks="", showgrid=False, zeroline=False, showline=False)
lay["xaxis7"] = dict(domain=XD(1137.7, 1150), range=[-0.5, 0.5], tickvals=[0], ticktext=["<b>Category1</b>"],
                     tickangle=90, tickfont=dict(size=12), anchor="y6", **tick_hidden)
lay["coloraxis5"] = dict(colorscale=HEAT_SCALE, cmin=HM_RANGE[0], cmax=HM_RANGE[1],
                         colorbar=dict(x=XP(1799), xanchor="left", y=YP(652.8), yanchor="top", len=202,
                                       lenmode="pixels", thickness=12, thicknessmode="pixels", xpad=0, ypad=0,
                                       outlinewidth=0, ticks="", tickvals=[-1, -0.5, 0, 0.5, 1, 1.5, 2],
                                       ticktext=["-1", "-0.5", "0", "0.5", "1", "1.5", "2"],
                                       tickfont=dict(size=11.5, family=SANS)))
# column dendrogram
n_g = len(HM_GENES)
dpos = {i: (float(i), 0.0) for i in range(n_g)}
dx_, dy_ = [], []
for k, (a, b, h) in enumerate(HM_COL_MERGES):
    (xa_, ya_), (xb_, yb_) = dpos[a], dpos[b]
    dpos[n_g + k] = ((xa_ + xb_) / 2, h)
    dx_ += [xa_, xa_, xb_, xb_, None]
    dy_ += [ya_, h, h, yb_, None]
fig.add_trace(go.Scatter(x=dx_, y=dy_, mode="lines", line=dict(color="#222", width=1.2), xaxis="x8", yaxis="y8",
                         hoverinfo="skip"))
lay["xaxis8"] = dict(domain=XD(1152.7, 1736), range=[-0.5, n_g - 0.5], visible=False, anchor="y8")
lay["yaxis8"] = dict(domain=YD(577.7, 652.7), range=[0, 75], visible=False, anchor="x8")
# category legend
text(1839, 658, "<b>Category1</b>", 11.5, xanchor="left")
glyph([1848] * 3, [677.6, 697, 716.6], size=17, symbol="square",
      color=[CAT_COLORS["control"], CAT_COLORS["model"], CAT_COLORS["TBC"]], line=dict(width=0.8, color="#333"))
for name, yy in zip(["control", "model", "TBC"], [677.6, 697, 716.6]):
    text(1860, yy, name, 11, xanchor="left")


# ---------------- F-I: enrichment tree plots ----------------
def add_tree(ax, T):
    xa, ya = f"x{ax}", f"y{ax}"
    x0, x1, y0, y1 = T["dom"]
    L0, step, R0, rstep = T["map"]
    lay[f"xaxis{ax}"] = dict(domain=XD(x0, x1), range=[(x0 - L0) / step, (x1 - L0) / step], visible=False,
                             anchor=ya)
    lay[f"yaxis{ax}"] = dict(domain=YD(y0, y1), range=[(y1 - R0) / rstep, (y0 - R0) / rstep], visible=False,
                             anchor=xa)
    terms, cl = T["terms"], T["cluster"]
    n = len(terms)
    leaf = T["leaf"]
    pos = {i: (leaf, float(i)) for i in range(n)}
    mem = {i: [i] for i in range(n)}
    for k, (a, b, lv) in enumerate(T["merges"]):
        pos[n + k] = (lv, (pos[a][1] + pos[b][1]) / 2)
        mem[n + k] = mem[a] + mem[b]

    def col_of(c):
        s = {cl[i] for i in mem[c]}
        return T["colors"][s.pop()] if len(s) == 1 else T["root"]

    segs = {}
    for k, (a, b, lv) in enumerate(T["merges"]):
        xn, yn = pos[n + k]
        for c in (a, b):
            xc, yc = pos[c]
            sx, sy = segs.setdefault(col_of(c), ([], []))
            sx += [xn, xn, xc, None]
            sy += [yn, yc, yc, None]
    for col, (sx, sy) in segs.items():
        fig.add_trace(go.Scatter(x=sx, y=sy, mode="lines", line=dict(color=col, width=1.6), xaxis=xa, yaxis=ya,
                                 hoverinfo="skip"))
    fig.add_trace(go.Scatter(x=[leaf] * n, y=list(range(n)), mode="markers", xaxis=xa, yaxis=ya, hoverinfo="skip",
                             marker=dict(size=[T["size"](c) for c in T["counts"]], color=T["padj"],
                                         coloraxis=T["cax"], line=dict(width=0))))
    fig.add_trace(go.Scatter(x=[leaf + T["dx"]] * n, y=list(range(n)), mode="text", text=terms,
                             textposition="middle right", cliponaxis=False, xaxis=xa, yaxis=ya, hoverinfo="skip",
                             textfont=dict(size=9, family=SANS, color=[T["colors"][c] for c in cl])))
    ncl = len(T["cnames"])
    cy = [sum(i for i in range(n) if cl[i] == k) / cl.count(k) for k in range(ncl)]
    fig.add_trace(go.Scatter(x=[T["cx"]] * ncl, y=cy, mode="text", text=T["cnames"], textposition="middle right",
                             cliponaxis=False, xaxis=xa, yaxis=ya, hoverinfo="skip",
                             textfont=dict(size=9.5, family=SANS, color="black")))
    bx0, by0, bx1, by1 = T["cbar"]
    tv, tt = T["cticks"]
    lay[T["cax"]] = dict(colorscale=PADJ_SCALE, cmin=min(T["padj"]), cmax=max(T["padj"]),
                         colorbar=dict(x=XP(bx0), xanchor="left", y=YP(by0), yanchor="top", len=by1 - by0,
                                       lenmode="pixels", thickness=bx1 - bx0, thicknessmode="pixels", xpad=0,
                                       ypad=0, outlinewidth=0, ticks="", tickvals=tv, ticktext=tt,
                                       tickfont=dict(size=8, family=SANS, color="#333")))
    tx, ty = T["ptitle"]
    text(tx, ty, "p.adjust", 9.5, xanchor="left")
    sx_, sy_, lx_, svals, fmt = T["sleg"]
    gx, gy = T["stitle"]
    text(gx, gy, "number of genes", 9.5, xanchor="left")
    glyph([sx_] * len(svals), sy_, size=[T["size"](v) for v in svals], color="black")
    for v, yy in zip(svals, sy_):
        text(lx_, yy, fmt.format(v), 8, xanchor="left", color="#333")


add_tree(9, dict(terms=F_TERMS, counts=F_COUNTS, padj=F_PADJ, cluster=F_CLUSTER, merges=F_MERGES,
                 cnames=F_CLUSTER_NAMES, leaf=7, colors=["#3C9AD2", "#2B9B74", "#A5A532", "#C964C9"],
                 root="#E8857C", dom=(45, 950, 1160, 1675), map=(130.4, 38.4, 1185.4, 24.94), dx=0.42, cx=15.95,
                 size=lambda v: 8 + (v - 30) * 0.14, cax="coloraxis", cbar=(857, 1460, 870, 1540),
                 cticks=([1e-5, 2e-5, 3e-5], ["1e-05", "2e-05", "3e-05"]), ptitle=(855.7, 1450),
                 stitle=(855.7, 1308.6),
                 sleg=(865.7, [1325.7, 1342.5, 1358.6, 1375.7, 1394.3, 1414], 879, [30, 40, 50, 60, 70, 80], "{}")))
add_tree(10, dict(terms=G_TERMS, counts=G_COUNTS, padj=G_PADJ, cluster=G_CLUSTER, merges=G_MERGES,
                  cnames=G_CLUSTER_NAMES, leaf=6, colors=["#A8A832", "#2E9ED6", "#2EA47A", "#CF6ACF"],
                  root="#E8857C", dom=(960, 1850, 1150, 1670), map=(1026, 44.3, 1178.2, 24.94), dx=0.47, cx=13.85,
                  size=lambda v: 9 + (v - 30) * 0.1, cax="coloraxis2", cbar=(1752, 1425.7, 1765, 1506.8),
                  cticks=([1e-5, 2e-5, 3e-5, 4e-5], ["1e-05", "2e-05", "3e-05", "4e-05"]), ptitle=(1752, 1415.7),
                  stitle=(1752, 1327.5), sleg=(1760, [1345.4, 1362, 1380.7], 1775, [30, 60, 90], "{}")))
add_tree(11, dict(terms=H_TERMS, counts=H_COUNTS, padj=H_PADJ, cluster=H_CLUSTER, merges=H_MERGES,
                  cnames=H_CLUSTER_NAMES, leaf=18, colors=["#D9605C", "#A36BD8", "#1FA3A3", "#7C9A12"],
                  root="#B58AE0", dom=(45, 950, 1735, 2250), map=(61.7, 15.19, 1754.6, 24.94), dx=0.26, cx=40.4,
                  size=lambda v: 6 + (v - 4) * 10.5, cax="coloraxis3", cbar=(787, 2021.4, 801, 2101.8),
                  cticks=([5e-5, 1e-4, 1.5e-4, 2e-4], ["0.00005", "0.00010", "0.00015", "0.00020"]),
                  ptitle=(787, 2011.8), stitle=(787, 1885),
                  sleg=(797, [1902.9, 1919.6, 1935.7, 1955, 1975], 808, [4.0, 4.25, 4.5, 4.75, 5.0], "{:.2f}")))
add_tree(12, dict(terms=I_TERMS, counts=I_COUNTS, padj=I_PADJ, cluster=I_CLUSTER, merges=I_MERGES,
                  cnames=I_CLUSTER_NAMES, leaf=8, colors=["#A5A532", "#2E9ED6", "#CC66CC", "#2E9E7A"],
                  root="#E8857C", dom=(960, 1850, 1740, 2255), map=(1002.7, 33.6, 1759.3, 24.94), dx=0.44, cx=18.25,
                  size=lambda v: 5.5 + (v - 2) * 1.75, cax="coloraxis4", cbar=(1728, 2044, 1742, 2123),
                  cticks=([5e-4, 1e-3], ["5e-04", "1e-03"]), ptitle=(1728.4, 2034), stitle=(1728.4, 1872.5),
                  sleg=(1738, [1889.6, 1905.7, 1922.1, 1938.9, 1957.1, 1976.4, 1997.5], 1751,
                        [2, 3, 4, 5, 6, 7, 8], "{}")))


# rounded frames and titles
def rrect(x0, y0, x1, y1, r):
    rx, ry = r / W, r / H
    X0, X1, Y0, Y1 = XP(x0), XP(x1), YP(y0), YP(y1)
    path = (f"M {X0 + rx},{Y0} L {X1 - rx},{Y0} Q {X1},{Y0} {X1},{Y0 - ry} L {X1},{Y1 + ry} "
            f"Q {X1},{Y1} {X1 - rx},{Y1} L {X0 + rx},{Y1} Q {X0},{Y1} {X0},{Y1 + ry} L {X0},{Y0 - ry} "
            f"Q {X0},{Y0} {X0 + rx},{Y0} Z")
    shapes.append(dict(type="path", path=path, xref="paper", yref="paper", line=dict(color="#4A9EA6", width=1.6),
                       layer="below"))


rrect(41, 1146, 1857, 1680, 100)
rrect(41, 1728, 1847, 2262, 100)
text(915, 1169, "Control vs. Model", 42, family=SERIF)
text(922, 1753, "Model vs. TBC", 42, family=SERIF)

lay["annotations"] = annotations
lay["shapes"] = shapes
fig.update_layout(**lay)
fig.write_html("out.html")
